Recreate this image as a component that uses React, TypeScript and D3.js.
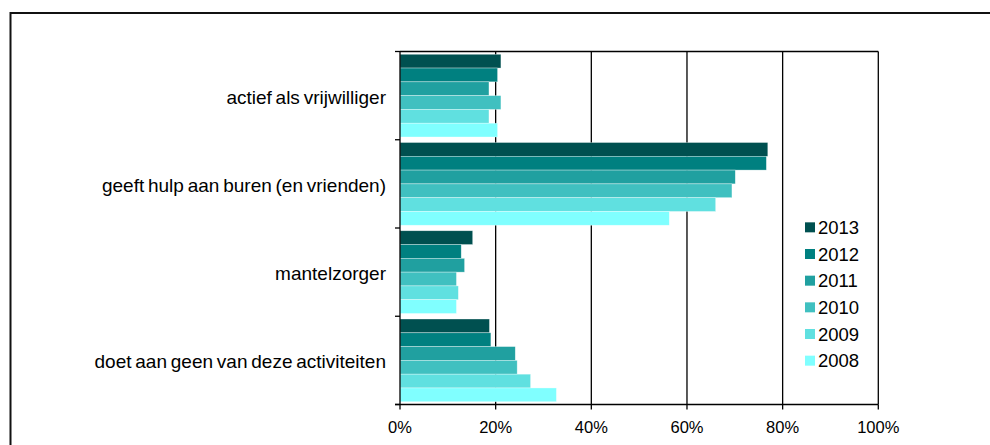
import * as d3 from 'd3';

// categorieën (van boven naar beneden)
const categories = [
  'actief als vrijwilliger',
  'geeft hulp aan buren (en vrienden)',
  'mantelzorger',
  'doet aan geen van deze activiteiten',
];

// jaren, in de volgorde van de balken binnen een categorie
const years = ['2013', '2012', '2011', '2010', '2009', '2008'];

// percentages per jaar, per categorie
const values2013 = [21.1, 76.9, 15.2, 18.7];
const values2012 = [20.4, 76.6, 12.8, 19.0];
const values2011 = [18.6, 70.1, 13.5, 24.1];
const values2010 = [21.1, 69.4, 11.8, 24.5];
const values2009 = [18.6, 66.0, 12.2, 27.3];
const values2008 = [20.4, 56.3, 11.8, 32.7];

const xTicks = [0, 20, 40, 60, 80, 100];

const colors = ['#005050', '#008080', '#20a0a0', '#40c0c0', '#60e0e0', '#80ffff'];

export default function App() {
  const width = 990;
  const height = 445;
  const plotLeft = 400;
  const plotRight = 878.3;
  const plotTop = 51.5;
  const plotBottom = 404.5;

  const series = [values2013, values2012, values2011, values2010, values2009, values2008];

  const x = d3.scaleLinear().domain([0, 100]).range([plotLeft, plotRight]);
  const y = d3.scaleBand().domain(categories).range([plotTop, plotBottom]).padding(0);
  const yInner = d3.scaleBand().domain(years).range([0, y.bandwidth()]).paddingInner(0).paddingOuter(0.2);

  const legendY = d3.scaleBand().domain(years).range([214, 374]);

  const boundaries = categories.map(c => y(c)!).concat([plotBottom]);
  const font = '"Liberation Sans", Arial, sans-serif';

  return (
    <svg width={width} height={height} style={{ position: 'absolute', left: 0, top: 0, fontFamily: font }}>
      <rect x={0} y={0} width={width} height={height} fill="#fff" />
      {/* kader van de grafiek */}
      <rect x={10.5} y={13} width={width + 20} height={height + 20} fill="none" stroke="#111" strokeWidth={2} />

      {/* rasterlijnen */}
      {xTicks.slice(1).map(t => (
        <line key={'g' + t} x1={x(t)} x2={x(t)} y1={plotTop} y2={plotBottom} stroke="#000" strokeWidth={1.3} />
      ))}
      <line x1={plotLeft} x2={plotRight} y1={plotTop} y2={plotTop} stroke="#000" strokeWidth={1.3} />

      {/* balken */}
      {categories.map((c, ci) => (
        <g key={c} transform={`translate(0,${y(c)})`}>
          {years.map((yr, si) => (
            <rect
              key={yr}
              x={x(0)}
              y={yInner(yr)}
              width={x(series[si][ci]) - x(0)}
              height={yInner.bandwidth()}
              fill={colors[si]}
              stroke="rgba(255,255,255,0.55)"
              strokeWidth={0.6}
            />
          ))}
        </g>
      ))}

      {/* assen */}
      <line x1={plotLeft} x2={plotLeft} y1={plotTop} y2={plotBottom} stroke="#000" strokeWidth={1.3} />
      <line x1={plotLeft - 5} x2={plotRight} y1={plotBottom} y2={plotBottom} stroke="#000" strokeWidth={1.3} />
      {boundaries.map((b, i) => (
        <line key={'yt' + i} x1={plotLeft - 5} x2={plotLeft} y1={b} y2={b} stroke="#000" strokeWidth={1.3} />
      ))}
      {xTicks.map(t => (
        <g key={'xt' + t}>
          <line x1={x(t)} x2={x(t)} y1={plotBottom} y2={plotBottom + 5} stroke="#000" strokeWidth={1.3} />
          <text x={x(t)} y={plotBottom + 28} textAnchor="middle" fontSize={16.5} fill="#000">
            {t}%
          </text>
        </g>
      ))}

      {/* categorielabels */}
      {categories.map(c => (
        <text
          key={'l' + c}
          x={386}
          y={y(c)! + y.bandwidth() / 2 + 8}
          textAnchor="end"
          fontSize={19}
          wordSpacing={-1.5}
          fill="#000"
        >
          {c}
        </text>
      ))}

      {/* legenda */}
      {years.map((yr, i) => (
        <g key={'lg' + yr} transform={`translate(0,${legendY(yr)! + legendY.bandwidth() / 2})`}>
          <rect x={805} y={-5} width={10} height={10} fill={colors[i]} />
          <text x={818} y={6.5} fontSize={18.5} fill="#000">
            {yr}
          </text>
        </g>
      ))}
    </svg>
  );
}
